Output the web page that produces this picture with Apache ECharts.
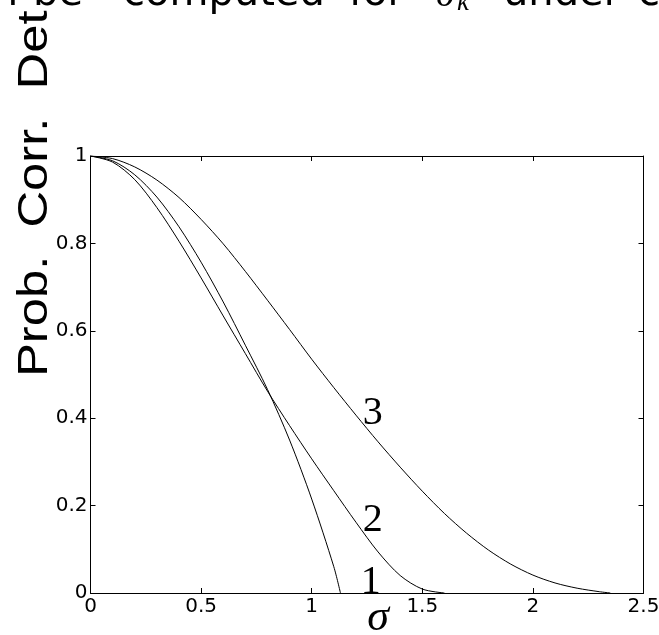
<!DOCTYPE html>
<html>
<head>
<meta charset="utf-8">
<script src="https://cdn.jsdelivr.net/npm/echarts@6/dist/echarts.min.js"></script>
<style>
  html, body { margin: 0; padding: 0; background: #fff; }
  #chart { width: 659px; height: 635px; }
</style>
</head>
<body>
<div id="chart"></div>
<script>
  // values
  const sigma1 = [0, 0.1, 0.2, 0.3, 0.4, 0.5, 0.6, 0.7, 0.8, 0.9, 1.0, 1.1, 1.13];
  const prob1 = [1, 0.989, 0.957, 0.906, 0.838, 0.757, 0.666, 0.567, 0.466, 0.350, 0.215, 0.060, 0];

  const sigma2 = [0, 0.1, 0.2, 0.3, 0.4, 0.5, 0.6, 0.7, 0.8, 0.9, 1.0, 1.1, 1.2, 1.3, 1.4, 1.5, 1.6];
  const prob2 = [1, 0.986, 0.946, 0.882, 0.805, 0.721, 0.634, 0.548, 0.462, 0.383, 0.307, 0.234, 0.162, 0.094, 0.040, 0.009, 0];

  const sigma3 = [0, 0.1, 0.2, 0.3, 0.4, 0.5, 0.6, 0.7, 0.8, 0.9, 1.0, 1.1, 1.2, 1.3, 1.4, 1.5, 1.6, 1.7, 1.8, 1.9, 2.0, 2.1, 2.2, 2.3, 2.35];
  const prob3 = [1, 0.994, 0.975, 0.945, 0.905, 0.855, 0.799, 0.736, 0.670, 0.603, 0.535, 0.470, 0.407, 0.346, 0.288, 0.233, 0.182, 0.137, 0.098, 0.066, 0.041, 0.023, 0.011, 0.003, 0];

  const curveNames = ['1', '2', '3'];
  const curveLabelAt = [[1.267, 0.023], [1.276, 0.165], [1.276, 0.41]];
  const xTitleAt = 1.30;

  const xTicks = { min: 0, max: 2.5, interval: 0.5 };
  const yTicks = { min: 0, max: 1, interval: 0.2 };

  const pairs = (xs, ys) => xs.map((x, i) => [x, ys[i]]);
  const curves = [pairs(sigma1, prob1), pairs(sigma2, prob2), pairs(sigma3, prob3)];

  const tickFont = { fontFamily: '"DejaVu Sans"', fontSize: 20, color: '#000' };
  const black = { color: '#000', width: 1 };

  function axisBox(extra) {
    return Object.assign({
      type: 'value',
      axisLine: { show: true, onZero: false, lineStyle: black },
      axisTick: { show: true, inside: true, length: 5, lineStyle: black },
      splitLine: { show: false }
    }, extra);
  }

  let myChart = echarts.init(document.getElementById('chart'), null, { renderer: 'canvas' });

  myChart.setOption({
    animation: false,
    backgroundColor: '#fff',
    grid: { left: 90.5, right: 15.5, top: 156, bottom: 42, outerBoundsMode: 'none' },
    xAxis: [
      axisBox(Object.assign({
        position: 'bottom',
        axisLabel: Object.assign({ margin: 4 }, tickFont)
      }, xTicks)),
      axisBox(Object.assign({ position: 'top', axisLabel: { show: false } }, xTicks))
    ],
    yAxis: [
      axisBox(Object.assign({
        position: 'left',
        axisLabel: Object.assign({ margin: 3 }, tickFont)
      }, yTicks)),
      axisBox(Object.assign({ position: 'right', axisLabel: { show: false } }, yTicks))
    ],
    series: curves.map((d, i) => ({
      name: curveNames[i],
      type: 'line',
      data: d,
      smooth: 0.3,
      symbol: 'none',
      lineStyle: { color: '#000', width: 1 },
      z: 3
    }))
  });

  // text around the plot
  const topWords = [
    ['can', 18, 'right'], ['be', 33, 'left'], ['computed', 123, 'left'],
    ['for', 349, 'left'], ['under', 503, 'left'], ['c', 638, 'left']
  ];
  const sansTop = '40px "DejaVu Sans"';

  let graphic = topWords.map(w => ({
    type: 'text', x: w[1], y: -5,
    style: { text: w[0], font: sansTop, fill: '#000', align: w[2], verticalAlign: 'middle' }
  }));
  graphic.push({
    type: 'text', x: 436, y: -4,
    style: { text: 'σ', font: 'italic 38px "Liberation Serif"', fill: '#000', align: 'left', verticalAlign: 'middle' }
  });
  graphic.push({
    type: 'text', x: 457, y: 3,
    style: { text: 'k', font: 'italic 27px "Liberation Serif"', fill: '#000', align: 'left', verticalAlign: 'middle' }
  });
  graphic.push({
    type: 'text', x: 35.3, y: 377, rotation: Math.PI / 2, scaleX: 1.18,
    style: { text: 'Prob.  Corr.  Det', font: '43px "Liberation Sans"', fill: '#000', align: 'left', verticalAlign: 'middle' }
  });
  // x axis title, placed under the axis at its data position
  const xTitlePx = myChart.convertToPixel({ gridIndex: 0 }, [xTitleAt, 0]);
  graphic.push({
    type: 'text', x: xTitlePx[0], y: xTitlePx[1] + 25, z: 10,
    style: { text: 'σ', font: 'italic 44px "Liberation Serif"', fill: '#000', align: 'center', verticalAlign: 'middle' }
  });
  curveLabelAt.forEach((p, i) => {
    const px = myChart.convertToPixel({ gridIndex: 0 }, p);
    graphic.push({
      type: 'text', x: px[0], y: px[1], z: 10,
      style: { text: curveNames[i], font: '40px "Liberation Serif"', fill: '#000', align: 'center', verticalAlign: 'middle' }
    });
  });
  myChart.setOption({ graphic: graphic });
</script>
</body>
</html>
